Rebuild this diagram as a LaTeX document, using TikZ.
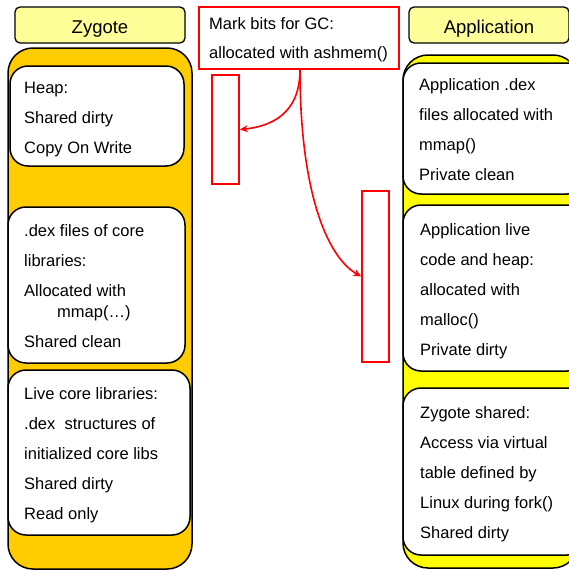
\documentclass[tikz,border=0pt]{standalone}
\usepackage{fontspec}
\setmainfont{Liberation Sans}
\usetikzlibrary{arrows.meta}
\definecolor{ltyel}{HTML}{FFFF99}
\definecolor{zyg}{HTML}{FFCC00}
\definecolor{app}{HTML}{FFFF00}
\begin{document}
\begin{tikzpicture}[x=1pt,y=-1pt,
  title/.style={draw=black,line width=1.3pt,fill=ltyel,rounded corners=5pt,inner sep=0pt,text height=16pt,text depth=0pt,font=\fontsize{18.5}{22}\selectfont},
  container/.style={draw=black,line width=1.5pt,rounded corners=25pt},
  inbox/.style={draw=black,line width=1.5pt,fill=white,rounded corners=18pt},
  txt/.style={anchor=base west,inner sep=0pt,align=left,font=\fontsize{16.5}{30}\selectfont},
  redbox/.style={draw=red,line width=1.6pt,fill=white,inner sep=0pt},
  redarrow/.style={draw=red,line width=1.6pt,-{Stealth[length=8pt,width=7pt]}}
]
\useasboundingbox (0,0) rectangle (569,570);
\clip (0,0) rectangle (569,570);
% titles
\node[title,minimum width=170,minimum height=36] (zt) at (100,25) {Zygote};
\node[title,minimum width=160,minimum height=36] (at) at (489,25) {Application};
% containers
\draw[container,fill=zyg] (8,48) rectangle (192,569);
\draw[container,fill=app] (403,55) rectangle (578,568);
% zygote inner boxes
\draw[inbox] (10,66) rectangle (184,166);
\draw[inbox] (8,207) rectangle (185,363);
\draw[inbox] (8,370) rectangle (190,535);
\node[txt] (z1) at (24,153) {Heap:\\Shared dirty\\Copy On Write};
\node[txt] (z2) at (24,347) {.dex files of core\\libraries:\\Allocated with\\[-9pt]\hspace*{33pt}mmap(…)\\Shared clean};
\node[txt] (z3) at (24,519) {Live core libraries:\\.dex\ \ structures of\\initialized core libs\\Shared dirty\\Read only};
% application inner boxes
\draw[inbox] (403,63) rectangle (585,194);
\draw[inbox] (403,205) rectangle (585,371);
\draw[inbox] (403,388) rectangle (585,555);
\node[txt] (a1) at (419,180) {Application .dex\\files allocated with\\mmap()\\Private clean};
\node[txt] (a2) at (420,355) {Application live\\code and heap:\\allocated with\\malloc()\\Private dirty};
\node[txt] (a3) at (420,538) {Zygote shared:\\Access via virtual\\table defined by\\Linux during fork()\\Shared dirty};
% mark bits
\node[redbox,minimum width=200,minimum height=62] (mark) at (299,38) {};
\node[txt] (mt) at (209,58) {Mark bits for GC:\\[-1pt]allocated with ashmem()};
\node[redbox,minimum width=27,minimum height=109] (r1) at (225.5,129.5) {};
\node[redbox,minimum width=27,minimum height=171] (r2) at (375.5,276.5) {};
\draw[redarrow] ([xshift=1pt]mark.south) .. controls +(0,45) and +(30,-3) .. (r1.east);
\draw[redarrow] ([xshift=1pt]mark.south) .. controls +(0,120) and +(-35,-20) .. (r2.west);
\end{tikzpicture}
\end{document}
